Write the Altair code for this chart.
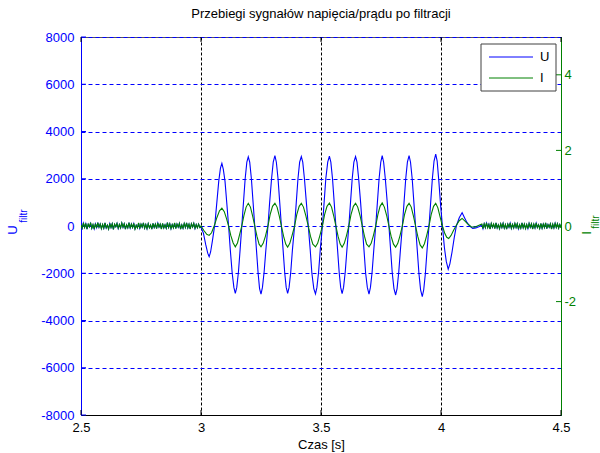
import altair as alt
import pandas as pd
import numpy as np

FONT = "Liberation Sans"
BLUE = "#0000FF"
GREEN = "#008000"

# ---------------- data ----------------
# U noise before the disturbance (2.5 .. 3.0 s)
u_pre = [40,-90,120,-60,100,-130,70,-40,110,-100,50,-120,90,-70,140,-50,80,-110,60,-90,
         130,-80,40,-120,100,-60,90,-140,70,-30,110,-100,60,-80,120,-50,90,-130,50,-70,
         140,-90,80,-60,100,-120,30,-80,120,-100,70,-50,130,-90,60,-110,90,-70,40,-130,
         110,-60,80,-100,120,-40,70,-120,100,-80,50,-90,140,-60,90,-110,60,-70,120,-100,
         80,-50,110,-130,40,-90,100,-60,130,-80,70,-120,90,-40,110,-100,60,-70,80,-60]
# U during the oscillation
u_osc_t = [3.000,3.010,3.020,3.028,3.034,3.040,3.048,3.058,3.066,3.074,3.081,3.087,3.093,3.100,3.108,
           3.115,3.122,3.130,3.137,3.143,3.149,3.156,3.163,3.170,3.177,3.184,3.191,3.197,3.203,3.210,
           3.217,3.224,3.231,3.238,3.244,3.250,3.256,3.263,3.270,3.279,3.286,3.294,3.301,3.308,3.314,
           3.321,3.328,3.335,3.342,3.349,3.355,3.361,3.367,3.374,3.381,3.390,3.397,3.404,3.411,3.418,
           3.424,3.431,3.439,3.447,3.455,3.462,3.470,3.477,3.483,3.490,3.497,3.506,3.513,3.520,3.528,
           3.535,3.541,3.548,3.555,3.562,3.569,3.576,3.582,3.588,3.594,3.601,3.608,3.616,3.623,3.630,
           3.637,3.644,3.650,3.657,3.665,3.672,3.679,3.686,3.693,3.700,3.706,3.713,3.720,3.728,3.735,
           3.742,3.749,3.755,3.761,3.768,3.776,3.783,3.790,3.797,3.804,3.811,3.817,3.824,3.831,3.839,
           3.846,3.853,3.860,3.867,3.873,3.880,3.887,3.894,3.901,3.908,3.915,3.922,3.928,3.935,3.942,
           3.950,3.957,3.964,3.971,3.978,3.984,3.991,3.999,4.006,4.014,4.022,4.030,4.037,4.046,4.055,
           4.064,4.076,4.088,4.098,4.108,4.120,4.132,4.145,4.160]
u_osc_v = [-50,-300,-800,-1150,-1300,-1100,-600,100,1000,1900,2450,2650,2400,1900,900,
           0,-1000,-2000,-2600,-2850,-2600,-1950,-1000,0,1000,2000,2700,2930,2700,2000,
           1000,0,-1000,-2000,-2650,-2880,-2600,-1950,-1050,0,1000,2000,2700,2980,2700,
           2000,1000,0,-1000,-2000,-2600,-2850,-2600,-1950,-1000,0,1000,2000,2700,2940,
           2700,2000,1000,0,-1000,-2000,-2650,-2870,-2600,-1950,-1000,0,1000,2000,2700,
           2960,2700,2000,1000,0,-1000,-2000,-2600,-2860,-2600,-1950,-1000,0,1000,2000,
           2700,2940,2700,2000,1000,0,-1000,-2000,-2600,-2880,-2600,-1950,-1000,0,1000,
           2000,2700,2980,2700,2000,1000,0,-1000,-2000,-2650,-2920,-2650,-1950,-1000,0,
           1000,2000,2700,2980,2700,2000,1000,0,-1000,-2000,-2700,-2990,-2700,-2000,-1000,
           0,1000,2000,2750,3040,2750,1900,800,0,-900,-1500,-1830,-1600,-1100,-500,
           0,350,560,350,150,0,-100,-80,-20]
# U noise after the disturbance (4.17 .. 4.5 s)
u_post = [60,-110,90,-70,120,-50,80,-120,100,-60,70,-100,130,-80,50,-110,90,-60,110,-90,
          60,-130,80,-50,120,-100,70,-80,100,-60,90,-120,50,-90,130,-70,80,-100,60,-110,
          110,-50,90,-120,70,-80,120,-60,50,-100,100,-90,80,-70,130,-110,60,-50,90,-120,
          70,-80,110,-60,100,-90,60,-70]

# I noise before the disturbance
i_pre = [0.03,-0.06,0.08,-0.04,0.07,-0.08,0.05,-0.02,0.09,-0.06,0.04,-0.08,0.06,-0.05,0.09,-0.03,
         0.05,-0.07,0.04,-0.06,0.08,-0.05,0.02,-0.08,0.07,-0.04,0.06,-0.09,0.05,-0.02,0.07,-0.06,
         0.04,-0.05,0.08,-0.03,0.06,-0.08,0.03,-0.05,0.09,-0.06,0.05,-0.04,0.07,-0.08,0.02,-0.05,
         0.08,-0.07,0.05,-0.03,0.08,-0.06,0.04,-0.07,0.06,-0.05,0.03,-0.08,0.07,-0.04,0.05,-0.07,
         0.08,-0.03,0.05,-0.08,0.07,-0.05,0.03,-0.06,0.09,-0.04,0.06,-0.07,0.04,-0.05,0.08,-0.07,
         0.05,-0.03,0.07,-0.08,0.03,-0.06,0.07,-0.04,0.08,-0.05,0.05,-0.08,0.06,-0.03,0.07,-0.06,
         0.04,-0.05,0.05,-0.04]
# I during the oscillation
i_osc_t = [3.000,3.012,3.024,3.034,3.044,3.056,3.066,3.077,3.087,3.097,3.106,3.115,3.124,3.134,3.143,
           3.152,3.160,3.170,3.179,3.188,3.197,3.206,3.215,3.224,3.233,3.242,3.250,3.259,3.268,3.279,
           3.288,3.298,3.308,3.317,3.326,3.335,3.344,3.353,3.361,3.370,3.379,3.390,3.399,3.409,3.418,
           3.427,3.437,3.447,3.456,3.466,3.477,3.486,3.495,3.506,3.515,3.525,3.535,3.544,3.553,3.562,
           3.571,3.580,3.588,3.597,3.606,3.616,3.625,3.635,3.644,3.653,3.663,3.672,3.681,3.690,3.700,
           3.709,3.718,3.728,3.737,3.746,3.755,3.764,3.774,3.783,3.792,3.802,3.811,3.820,3.829,3.839,
           3.848,3.858,3.867,3.876,3.885,3.894,3.903,3.913,3.922,3.931,3.940,3.950,3.959,3.969,3.978,
           3.987,3.996,4.006,4.016,4.024,4.032,4.042,4.052,4.064,4.076,4.088,4.100,4.112,4.125,4.140]
i_osc_v = [0.0,-0.12,-0.22,-0.25,-0.18,0.02,0.22,0.40,0.47,0.38,0.20,0.0,-0.25,-0.45,-0.55,
           -0.45,-0.25,0.0,0.28,0.50,0.60,0.50,0.27,0.0,-0.27,-0.48,-0.55,-0.46,-0.28,0.0,
           0.30,0.52,0.60,0.50,0.27,0.0,-0.27,-0.48,-0.56,-0.46,-0.26,0.0,0.30,0.52,0.60,
           0.50,0.27,0.0,-0.27,-0.48,-0.55,-0.46,-0.26,0.0,0.30,0.52,0.61,0.50,0.27,0.0,
           -0.27,-0.48,-0.56,-0.46,-0.26,0.0,0.30,0.52,0.60,0.50,0.27,0.0,-0.27,-0.48,-0.55,
           -0.46,-0.26,0.0,0.30,0.52,0.61,0.50,0.27,0.0,-0.27,-0.48,-0.56,-0.46,-0.26,0.0,
           0.30,0.52,0.60,0.50,0.27,0.0,-0.27,-0.50,-0.58,-0.47,-0.26,0.0,0.30,0.52,0.60,
           0.48,0.25,0.0,-0.20,-0.30,-0.33,-0.25,-0.12,0.02,0.14,0.20,0.13,0.05,-0.02,-0.03]
# I noise after the disturbance
i_post = [0.05,-0.07,0.06,-0.04,0.08,-0.05,0.04,-0.08,0.07,-0.03,0.05,-0.07,0.08,-0.05,0.03,-0.07,
          0.06,-0.04,0.07,-0.06,0.04,-0.08,0.05,-0.03,0.08,-0.06,0.04,-0.05,0.07,-0.04,0.06,-0.08,
          0.03,-0.06,0.08,-0.05,0.05,-0.07,0.04,-0.07,0.07,-0.03,0.06,-0.08,0.05,-0.05,0.08,-0.04,
          0.03,-0.07,0.07,-0.06,0.05,-0.04,0.08,-0.07,0.04,-0.03,0.06,-0.08,0.05,-0.05,0.07,-0.04,
          0.06,-0.06,0.04,-0.05]

x_ticks = [2.5, 3, 3.5, 4, 4.5]
u_ticks = [-8000, -6000, -4000, -2000, 0, 2000, 4000, 6000, 8000]
i_ticks = [-2, 0, 2, 4]

title_text = "Przebiegi sygnałów napięcia/prądu po filtracji"
x_title = "Czas [s]"

# ---------------- tables ----------------
u_df = pd.DataFrame({
    "t": list(np.linspace(2.5, 2.995, len(u_pre))) + u_osc_t + list(np.linspace(4.17, 4.5, len(u_post))),
    "U": u_pre + u_osc_v + u_post,
})
i_df = pd.DataFrame({
    "t": list(np.linspace(2.5, 2.995, len(i_pre))) + i_osc_t + list(np.linspace(4.17, 4.5, len(i_post))),
    "I": i_pre + i_osc_v + i_post,
})

W, H = 480, 378

xscale = alt.Scale(domain=[2.5, 4.5], nice=False, zero=False)
uscale = alt.Scale(domain=[-8000, 8000], nice=False)
iscale = alt.Scale(domain=[-5, 5], nice=False)

x_axis = alt.Axis(values=x_ticks, labelExpr="'' + datum.value", title=x_title,
                  grid=True, gridColor="#000000", gridDash=[3, 2], gridOpacity=1, gridWidth=1,
                  domainColor="#000000", tickSize=0, labelPadding=6, labelColor="#000000",
                  labelFlush=False, labelOverlap=False,
                  labelFont=FONT, labelFontSize=13, titleFont=FONT, titleFontSize=13,
                  titleFontWeight="normal", titleColor="#000000", titlePadding=4)
u_axis = alt.Axis(values=u_ticks, labelExpr="'' + datum.value", title=None, orient="left",
                  grid=True, gridColor=BLUE, gridDash=[4, 3], gridOpacity=1, gridWidth=1,
                  domainColor=BLUE, tickSize=0, labelPadding=7, labelColor=BLUE,
                  labelFlush=False, labelOverlap=False,
                  labelFont=FONT, labelFontSize=13)
i_axis = alt.Axis(values=i_ticks, labelExpr="'' + datum.value", title=None, orient="right",
                  grid=False, domainColor=GREEN, tickSize=0, labelPadding=3, labelColor=GREEN,
                  labelFlush=False, labelOverlap=False,
                  labelFont=FONT, labelFontSize=13)

u_line = alt.Chart(u_df).mark_line(color=BLUE, strokeWidth=1.1, clip=True).encode(
    x=alt.X("t:Q", scale=xscale, axis=x_axis),
    y=alt.Y("U:Q", scale=uscale, axis=u_axis),
)
u_tick_marks = alt.Chart(pd.DataFrame({"U": u_ticks})).mark_rule(color=BLUE).encode(
    y=alt.Y("U:Q", scale=uscale, axis=u_axis), x=alt.value(0), x2=alt.value(5))
xb_ticks = alt.Chart(pd.DataFrame({"t": x_ticks})).mark_rule(color="#000000").encode(
    x=alt.X("t:Q", scale=xscale, axis=x_axis), y=alt.value(H), y2=alt.value(H - 5))
xt_ticks = alt.Chart(pd.DataFrame({"t": x_ticks})).mark_rule(color="#000000").encode(
    x=alt.X("t:Q", scale=xscale, axis=x_axis), y=alt.value(0), y2=alt.value(5))

i_line = alt.Chart(i_df).mark_line(color=GREEN, strokeWidth=1.1, clip=True).encode(
    x=alt.X("t:Q", scale=xscale, axis=x_axis),
    y=alt.Y("I:Q", scale=iscale, axis=i_axis),
)
i_tick_marks = alt.Chart(pd.DataFrame({"I": i_ticks})).mark_rule(color=GREEN).encode(
    y=alt.Y("I:Q", scale=iscale, axis=i_axis), x=alt.value(W), x2=alt.value(W - 5))

left = alt.layer(u_line, u_tick_marks, xb_ticks, xt_ticks)
right = alt.layer(i_line, i_tick_marks)

one = alt.Data(values=[{"k": 1}])

def txt(s, x, y, color, size, angle=0, align="center"):
    return alt.Chart(one).mark_text(text=s, color=color, fontSize=size, font=FONT,
                                    angle=angle, align=align, baseline="middle").encode(
        x=alt.value(x), y=alt.value(y))

legend_box = alt.Chart(one).mark_rect(fill="white", stroke="#404040", strokeWidth=1).encode(
    x=alt.value(400), x2=alt.value(475), y=alt.value(7), y2=alt.value(54))
leg_u = alt.Chart(one).mark_rule(color=BLUE, strokeWidth=1).encode(
    x=alt.value(408), x2=alt.value(452), y=alt.value(20))
leg_i = alt.Chart(one).mark_rule(color=GREEN, strokeWidth=1).encode(
    x=alt.value(408), x2=alt.value(452), y=alt.value(41))

chart = alt.layer(
    left, right,
    legend_box, leg_u, leg_i,
    txt("U", 459, 20, "#000000", 13, align="left"),
    txt("I", 459, 41, "#000000", 13, align="left"),
    txt("U", -68, 193, BLUE, 13, angle=270),
    txt("filtr", -57, 179, BLUE, 10, angle=270),
    txt("I", 506, 196, GREEN, 13, angle=270),
    txt("filtr", 515, 185, GREEN, 10, angle=270),
).resolve_scale(y="independent").properties(
    width=W, height=H,
    title=alt.TitleParams(title_text, font=FONT, fontSize=13, fontWeight="normal",
                          color="#000000", offset=10, anchor="middle"),
    autosize=alt.AutoSizeParams(type="none"),
    padding={"left": 81, "top": 37, "right": 39, "bottom": 38},
).configure_view(stroke="#555555", strokeWidth=1)

chart.save("out.html", embed_options={"renderer": "svg", "actions": False})
